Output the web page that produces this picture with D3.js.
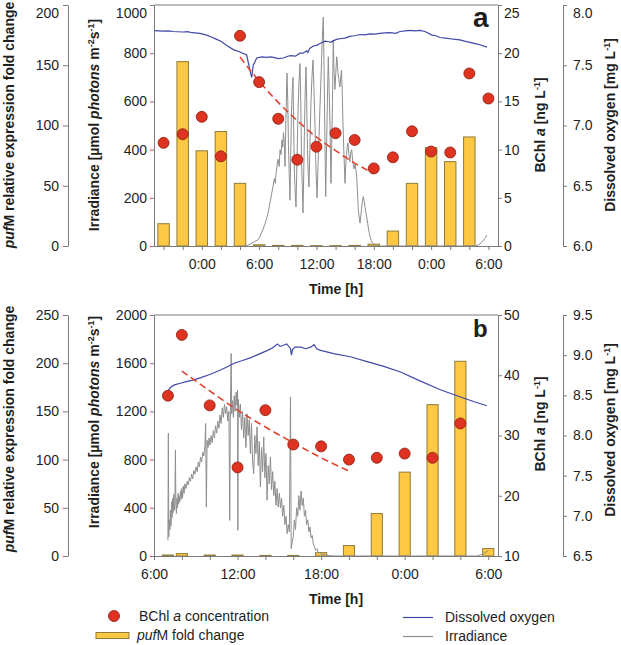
<!DOCTYPE html>
<html><head><meta charset="utf-8">
<script src="https://cdn.jsdelivr.net/npm/d3@7"></script>
<style>
body{margin:0;background:#fff}
svg{display:block}
text{font-family:"Liberation Sans",Arial,sans-serif;fill:#1e1e1e}
</style>
</head><body>
<svg id="c" width="621" height="645"></svg>
<script>
// ================= Panel a data =================
const aBarTime = [-4,-2,0,2,4,6,8,10,12,14,16,18,20,22,24,26,28];
const aFold    = [18.5,153,79,95,52,1,0.5,0.5,0.3,0.3,0.5,1.5,12.4,52,81.6,70,90.5];
const aBchlTime = [-4,-2,0,2,4,6,8,10,12,14,16,18,20,22,24,26,28,30];
const aBchl     = [10.7,11.6,13.4,9.3,21.8,17.0,13.2,8.95,10.3,11.7,11.0,8.05,9.2,11.9,9.8,9.7,17.9,15.3];
const aTrendTime = [4,6,8,10,12,14,16,18];
const aTrend     = [19.6,17.1,14.9,13.0,11.3,9.9,8.6,7.5];
const aDO = [[-5,7.787],[-4,7.783],[-3.5,7.786],[-3,7.78],[-2,7.776],[-1.5,7.779],[-1,7.77],[-0.19,7.765],[0.5,7.75],[1,7.735],[1.56,7.715],[2,7.70],[2.5,7.67],[3.3,7.63],[4.0,7.61],[4.7,7.585],[5.05,7.455],[5.22,7.40],[5.39,7.50],[5.75,7.56],[6.3,7.57],[6.79,7.566],[7.2,7.57],[7.5,7.565],[8.0,7.555],[8.53,7.56],[9.0,7.575],[9.3,7.58],[9.8,7.575],[10.28,7.60],[10.6,7.60],[10.98,7.62],[11.1,7.605],[11.3,7.64],[11.67,7.66],[12.0,7.665],[12.37,7.68],[12.9,7.70],[13.3,7.695],[13.5,7.69],[13.7,7.70],[14.1,7.715],[14.46,7.72],[15.0,7.725],[15.51,7.74],[16.0,7.745],[16.56,7.755],[17.1,7.752],[17.6,7.76],[18.1,7.758],[18.65,7.765],[19.2,7.768],[19.7,7.77],[20.3,7.765],[20.74,7.78],[21.3,7.785],[21.79,7.79],[22.31,7.785],[22.84,7.79],[23.36,7.78],[24.09,7.75],[24.5,7.745],[24.93,7.73],[25.5,7.725],[25.98,7.72],[26.5,7.715],[27.02,7.71],[27.5,7.70],[28.07,7.69],[28.6,7.68],[29.12,7.67],[29.85,7.65]];
const aIrr = [[4.42,0],[4.8,3],[5.05,8],[5.5,18],[5.88,25],[6.1,40],[6.41,70],[6.6,90],[6.83,120],[7.0,150],[7.14,180],[7.3,215],[7.45,245],[7.6,280],[7.7,260],[7.77,300],[7.9,340],[7.98,360],[8.1,330],[8.19,400],[8.3,380],[8.39,440],[8.47,410],[8.55,470],[8.63,430],[8.71,330],[8.8,520],[8.92,717],[9.0,600],[9.07,420],[9.15,300],[9.23,190],[9.31,380],[9.39,560],[9.47,650],[9.55,700],[9.62,480],[9.70,300],[9.78,220],[9.86,162],[9.96,350],[10.07,550],[10.17,680],[10.28,757],[10.36,600],[10.44,350],[10.52,250],[10.59,137],[10.67,300],[10.75,500],[10.83,650],[10.91,743],[10.98,600],[11.06,400],[11.14,300],[11.22,245],[11.32,420],[11.43,600],[11.53,700],[11.64,772],[11.74,650],[11.85,500],[11.95,320],[12.06,200],[12.16,330],[12.27,450],[12.37,580],[12.48,700],[12.60,850],[12.72,950],[12.78,780],[12.84,600],[12.90,400],[12.97,205],[13.03,350],[13.10,500],[13.17,650],[13.24,785],[13.33,650],[13.42,500],[13.47,380],[13.52,260],[13.60,430],[13.68,600],[13.76,855],[13.85,720],[13.94,650],[14.03,720],[14.12,785],[14.19,760],[14.25,720],[14.35,690],[14.46,660],[14.54,700],[14.62,730],[14.70,640],[14.78,500],[14.88,380],[14.99,260],[15.06,330],[15.14,380],[15.22,410],[15.30,428],[15.40,380],[15.51,350],[15.60,390],[15.69,400],[15.80,350],[15.93,320],[16.05,340],[16.21,290],[16.30,220],[16.38,150],[16.47,120],[16.56,95],[16.63,120],[16.71,150],[16.80,185],[16.90,205],[17.00,185],[17.08,160],[17.17,140],[17.26,120],[17.36,95],[17.45,70],[17.53,55],[17.60,40],[17.75,22],[17.92,10],[18.08,4],[18.23,0],[28.6,0],[29.0,5],[29.3,15],[29.6,30],[29.85,45]];

// ================= Panel b data =================
const bBarTime = [7,8,10,12,14,16,18,20,22,24,26,28,30];
const bFold    = [1,2.5,1,1,0.6,0.6,3.5,10.8,44,87,157,202,7.7];
const bBchlTime = [7,8,10,12,14,16,18,20,22,24,26,28];
const bBchl     = [36.6,46.7,35.0,24.7,34.2,28.5,28.2,26.0,26.3,27.0,26.3,32.0];
const bTrendTime = [8,10,12,14,16,18,20];
const bTrend     = [40.7,37.4,34.2,31.4,28.8,26.3,24.1];
const bDO = [[7.03,8.566],[7.2,8.60],[7.46,8.63],[7.9,8.65],[8.3,8.67],[8.8,8.69],[9.37,8.72],[10.0,8.76],[10.57,8.80],[11.2,8.85],[11.76,8.90],[12.3,8.93],[12.96,8.97],[13.5,9.01],[14.15,9.06],[14.5,9.09],[14.87,9.14],[15.05,9.11],[15.25,9.12],[15.53,9.14],[15.8,9.08],[15.87,9.00],[15.95,9.07],[16.11,9.10],[16.54,9.10],[16.9,9.08],[17.25,9.10],[17.49,9.13],[17.68,9.08],[17.97,9.06],[18.9,9.02],[20.1,8.98],[21.3,8.92],[22.5,8.86],[23.7,8.79],[25.1,8.68],[26.56,8.57],[28.0,8.48],[29.0,8.42],[29.9,8.37]];
const bIrr = [[7.00,130],[7.03,1020],[7.06,160],[7.10,300],[7.14,220],[7.18,380],[7.22,250],[7.26,450],[7.30,320],[7.34,480],[7.38,360],[7.42,510],[7.46,380],[7.50,470],[7.54,878],[7.57,420],[7.61,354],[7.65,480],[7.69,400],[7.73,520],[7.77,430],[7.81,500],[7.85,450],[7.90,540],[7.95,470],[8.00,560],[8.05,480],[8.10,580],[8.16,520],[8.22,600],[8.30,560],[8.38,620],[8.46,590],[8.54,650],[8.62,620],[8.70,680],[8.78,640],[8.86,710],[8.94,680],[9.02,740],[9.10,700],[9.18,780],[9.26,740],[9.34,820],[9.42,780],[9.50,860],[9.58,830],[9.66,920],[9.71,1100],[9.76,407],[9.81,960],[9.88,900],[9.95,980],[10.02,920],[10.10,1000],[10.18,940],[10.26,1040],[10.34,980],[10.42,1080],[10.50,1020],[10.58,1120],[10.66,1060],[10.74,1170],[10.82,1100],[10.90,1230],[10.98,1150],[11.06,1260],[11.14,1180],[11.22,1240],[11.30,1120],[11.38,1200],[11.44,296],[11.48,1150],[11.54,1681],[11.58,1180],[11.64,1290],[11.70,1150],[11.76,1330],[11.82,1200],[11.90,1360],[11.96,1250],[12.00,1376],[12.02,213],[12.05,1300],[12.12,1150],[12.20,1260],[12.28,1050],[12.36,1200],[12.44,980],[12.52,1150],[12.60,900],[12.68,1180],[12.76,1000],[12.84,1130],[12.92,850],[13.00,1100],[13.08,780],[13.16,684],[13.24,1000],[13.32,850],[13.40,1071],[13.48,750],[13.56,950],[13.64,573],[13.72,900],[13.80,700],[13.88,988],[13.96,650],[14.04,850],[14.12,463],[14.20,750],[14.28,600],[14.36,822],[14.44,550],[14.52,700],[14.60,500],[14.68,620],[14.76,420],[14.84,560],[14.92,407],[15.00,520],[15.08,400],[15.16,480],[15.24,330],[15.32,420],[15.40,260],[15.48,330],[15.56,186],[15.64,260],[15.72,200],[15.80,1320],[15.85,61],[15.92,110],[16.00,160],[16.08,300],[16.16,220],[16.24,400],[16.32,330],[16.40,500],[16.48,380],[16.56,540],[16.64,420],[16.72,480],[16.80,330],[16.88,380],[16.96,260],[17.04,300],[17.12,200],[17.20,240],[17.28,150],[17.36,170],[17.44,100],[17.52,80],[17.60,47],[17.70,60],[17.80,25],[17.90,30],[18.00,15],[18.3,8],[18.6,3],[19.0,0],[29.2,0],[29.6,15],[30.0,45]];

// ================= Tick values =================
const aFoldTicks = [0,50,100,150,200];
const aIrrTicks  = [0,200,400,600,800,1000];
const aBchlTicks = [0,5,10,15,20,25];
const aDOTicks   = [6.0,6.5,7.0,7.5,8.0];
const bFoldTicks = [0,50,100,150,200,250];
const bIrrTicks  = [0,400,800,1200,1600,2000];
const bBchlTicks = [10,20,30,40,50];
const bDOTicks   = [6.5,7.0,7.5,8.0,8.5,9.0,9.5];

// ================= Styles =================
const AXIS = '#7a7a7a';
const BAR_FILL = '#FDC844', BAR_STROKE = '#8f7b3a';
const PT_FILL = '#DD3320', PT_STROKE = '#8a1d10';
const TREND = '#E2432E';
const DO_COL = '#4048A8';
const IRR_COL = '#8e8e8e';

const svg = d3.select('#c');
const X0 = 154, X1 = 498, FOLDX = 68, DOX = 563;

// style an axis; if nudgeTop is given, the label of that tick value is moved
// slightly down so it is not clipped by the top edge of the picture
function styleAxis(g, nudgeTop){
  g.selectAll('.domain').attr('stroke', AXIS);
  g.selectAll('.tick line').attr('stroke', AXIS);
  g.selectAll('.tick text').attr('fill','#1e1e1e').style('font-size','14px')
    .style('font-family','"Liberation Sans",Arial,sans-serif');
  if (nudgeTop !== undefined){
    g.selectAll('.tick').filter(d => Math.abs(d - nudgeTop) < 1e-9)
      .select('text').attr('dy','0.9em');
  }
}

function vTitle(g, x, y, parts){
  const t = g.append('text')
    .attr('transform', `translate(${x},${y}) rotate(-90)`)
    .attr('text-anchor','middle')
    .style('font-weight','bold').style('font-size','14px');
  let shifted = false;
  parts.forEach(p => {
    const ts = t.append('tspan').text(p.t);
    if (p.i) ts.style('font-style','italic');
    if (p.sup){ ts.attr('dy', -5).style('font-size','9px'); shifted = true; }
    else if (shifted){ ts.attr('dy', 5); shifted = false; }
  });
}

function hourFmt(d){ return (((d % 24) + 24) % 24) + ':00'; }

function drawPanel(p){
  const g = svg.append('g');
  const x = d3.scaleLinear().domain(p.xDomain).range([X0, X1]);
  const yFold = d3.scaleLinear().domain(p.foldDomain).range([p.bottom, p.top]);
  const yIrr  = d3.scaleLinear().domain(p.irrDomain).range([p.bottom, p.top]);
  const yB    = d3.scaleLinear().domain(p.bDomain).range([p.bottom, p.top]);
  const yDO   = d3.scaleLinear().domain(p.doDomain).range([p.bottom, p.top]);
  const nudge = p.top < 10;

  // top frame line
  g.append('line').attr('x1',X0).attr('x2',X1).attr('y1',p.top).attr('y2',p.top).attr('stroke',AXIS);

  // bars
  const bw = (x(2) - x(0)) * p.barFrac;
  g.append('g').selectAll('rect').data(d3.zip(p.barTime, p.fold)).join('rect')
    .attr('x', d => x(d[0]) - bw/2)
    .attr('y', d => yFold(d[1]))
    .attr('width', bw)
    .attr('height', d => Math.max(0.8, yFold(0) - yFold(d[1])))
    .attr('fill', BAR_FILL).attr('stroke', BAR_STROKE).attr('stroke-width', 1);

  // irradiance
  g.append('path').datum(p.irr)
    .attr('d', d3.line().x(d => x(d[0])).y(d => yIrr(d[1])))
    .attr('fill','none').attr('stroke', IRR_COL).attr('stroke-width', 1);

  // dissolved oxygen
  g.append('path').datum(p.dox)
    .attr('d', d3.line().x(d => x(d[0])).y(d => yDO(d[1])))
    .attr('fill','none').attr('stroke', DO_COL).attr('stroke-width', 1.2);

  // trend line
  g.append('path').datum(d3.zip(p.trendTime, p.trend))
    .attr('d', d3.line().curve(d3.curveMonotoneX).x(d => x(d[0])).y(d => yB(d[1])))
    .attr('fill','none').attr('stroke', TREND).attr('stroke-width', 1.6)
    .attr('stroke-dasharray','7,4');

  // BChl points
  g.append('g').selectAll('circle').data(d3.zip(p.bchlTime, p.bchl)).join('circle')
    .attr('cx', d => x(d[0])).attr('cy', d => yB(d[1])).attr('r', 5.5)
    .attr('fill', PT_FILL).attr('stroke', PT_STROKE).attr('stroke-width', 0.8);

  // axes
  const xa = g.append('g').attr('transform', `translate(0,${p.bottom})`)
    .call(d3.axisBottom(x).tickValues(p.xTicks).tickSize(4).tickSizeOuter(0).tickPadding(9)
      .tickFormat(d => (d % 6 === 0) ? hourFmt(d) : ''));
  styleAxis(xa);

  const ia = g.append('g').attr('transform', `translate(${X0},0)`)
    .call(d3.axisLeft(yIrr).tickValues(p.irrTicks).tickSize(4).tickSizeOuter(0).tickPadding(3)
      .tickFormat(d3.format('d')));
  styleAxis(ia, nudge ? p.irrDomain[1] : undefined);

  const fa = g.append('g').attr('transform', `translate(${FOLDX},0)`)
    .call(d3.axisLeft(yFold).tickValues(p.foldTicks).tickSize(5).tickSizeOuter(0).tickPadding(4)
      .tickFormat(d3.format('d')));
  styleAxis(fa, nudge ? p.foldDomain[1] : undefined);

  const ba = g.append('g').attr('transform', `translate(${X1},0)`)
    .call(d3.axisRight(yB).tickValues(p.bTicks).tickSize(4).tickSizeOuter(0).tickPadding(2)
      .tickFormat(d3.format('d')));
  styleAxis(ba, nudge ? p.bDomain[1] : undefined);

  const da = g.append('g').attr('transform', `translate(${DOX},0)`)
    .call(d3.axisRight(yDO).tickValues(p.doTicks).tickSize(4).tickSizeOuter(0).tickPadding(6)
      .tickFormat(d3.format('.1f')));
  styleAxis(da, nudge ? p.doDomain[1] : undefined);

  // titles
  vTitle(g, 14, p.tc.fold, [{t:'puf', i:true},{t:'M relative expression fold change'}]);
  vTitle(g, 99, p.tc.irr, [{t:'Irradiance [µmol '},{t:'photons', i:true},{t:' m'},{t:'-2',sup:true},{t:'s'},{t:'-1',sup:true},{t:']'}]);
  vTitle(g, 545, p.tc.b, [{t:'BChl '},{t:'a', i:true},{t:' [ng L'},{t:'-1',sup:true},{t:']'}]);
  vTitle(g, 615, p.tc.dox, [{t:'Dissolved oxygen [mg L'},{t:'-1',sup:true},{t:']'}]);

  g.append('text').attr('x', 336).attr('y', p.bottom + 48).attr('text-anchor','middle')
    .style('font-weight','bold').style('font-size','14px').text('Time [h]');

  g.append('text').attr('x', 473).attr('y', p.top + 22)
    .style('font-weight','bold').style('font-size', p.labelSize + 'px').text(p.label);
}

drawPanel({
  label:'a', labelSize:28, top:5, bottom:246, xDomain:[-5,31], xTicks:d3.range(-4,31,2), barFrac:0.6,
  foldDomain:[0,200], irrDomain:[0,1000], bDomain:[0,25], doDomain:[6,8],
  foldTicks:aFoldTicks, irrTicks:aIrrTicks, bTicks:aBchlTicks, doTicks:aDOTicks,
  barTime:aBarTime, fold:aFold, bchlTime:aBchlTime, bchl:aBchl,
  trendTime:aTrendTime, trend:aTrend, dox:aDO, irr:aIrr,
  tc:{fold:125, irr:125, b:125, dox:125}
});

drawPanel({
  label:'b', labelSize:24, top:315, bottom:556, xDomain:[6,30.7], xTicks:d3.range(6,31,2), barFrac:0.4,
  foldDomain:[0,250], irrDomain:[0,2000], bDomain:[10,50], doDomain:[6.5,9.5],
  foldTicks:bFoldTicks, irrTicks:bIrrTicks, bTicks:bBchlTicks, doTicks:bDOTicks,
  barTime:bBarTime, fold:bFold, bchlTime:bBchlTime, bchl:bBchl,
  trendTime:bTrendTime, trend:bTrend, dox:bDO, irr:bIrr,
  tc:{fold:429, irr:422, b:424, dox:430}
});

// ================= Legend =================
const lg = svg.append('g').style('font-size','14px');
lg.append('circle').attr('cx',114).attr('cy',616).attr('r',5.5)
  .attr('fill',PT_FILL).attr('stroke',PT_STROKE).attr('stroke-width',0.8);
const t1 = lg.append('text').attr('x',139).attr('y',621);
t1.append('tspan').text('BChl ');
t1.append('tspan').style('font-style','italic').text('a');
t1.append('tspan').text(' concentration');

lg.append('rect').attr('x',96).attr('y',632.5).attr('width',33).attr('height',6)
  .attr('fill',BAR_FILL).attr('stroke',BAR_STROKE);
const t2 = lg.append('text').attr('x',137).attr('y',640);
t2.append('tspan').style('font-style','italic').text('puf');
t2.append('tspan').text('M fold change');

lg.append('line').attr('x1',403).attr('x2',433).attr('y1',617.5).attr('y2',617.5)
  .attr('stroke',DO_COL).attr('stroke-width',1.2);
lg.append('text').attr('x',445).attr('y',622).text('Dissolved oxygen');
lg.append('line').attr('x1',403).attr('x2',433).attr('y1',636.5).attr('y2',636.5)
  .attr('stroke',IRR_COL).attr('stroke-width',1.2);
lg.append('text').attr('x',445).attr('y',641).text('Irradiance');
</script>
</body></html>
